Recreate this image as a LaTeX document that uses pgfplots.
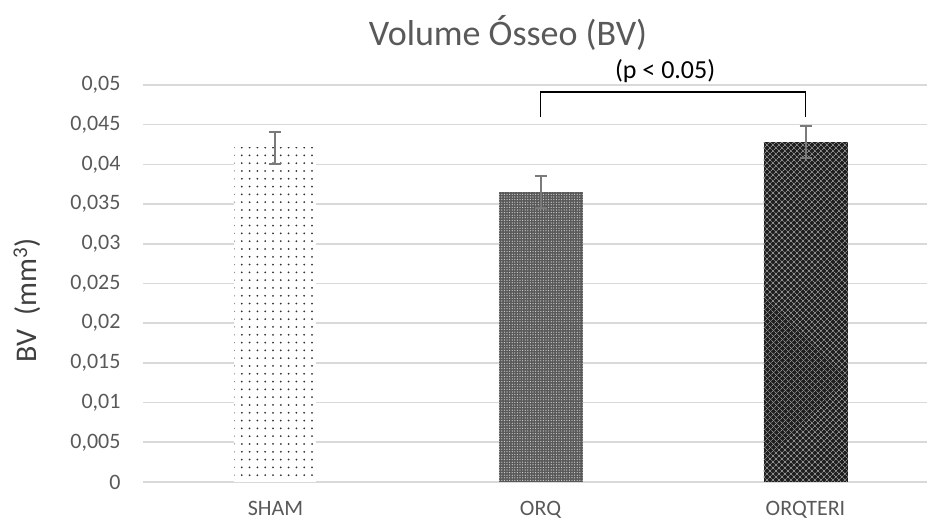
\documentclass[border=0pt]{standalone}
\usepackage{pgfplots}
\pgfplotsset{compat=1.18}
\usepackage{fontspec}
\setmainfont{Carlito}
\usetikzlibrary{patterns,patterns.meta}
\definecolor{textgray}{HTML}{595959}
\definecolor{labgray}{HTML}{404040}
\definecolor{gridgray}{HTML}{D9D9D9}
\definecolor{errgray}{HTML}{7A7A7A}
\begin{document}
\begin{tikzpicture}
\begin{axis}[
  scale only axis,
  width=784pt, height=397pt,
  xmin=-0.5, xmax=2.4585,
  ymin=0, ymax=0.05,
  ytick distance=0.005,
  scaled y ticks=false,
  xtick={0,1,2},
  xticklabels={SHAM,ORQ,ORQTERI},
  axis line style={draw=none},
  major tick length=0pt,
  tick style={draw=none},
  ymajorgrids,
  grid style={color=gridgray, line width=1.6pt},
  /pgf/number format/assume math mode=true,
  /pgf/number format/use comma,
  /pgf/number format/fixed,
  /pgf/number format/precision=3,
  yticklabel style={font=\fontsize{22}{26}\selectfont, color=textgray, anchor=east, xshift=-19pt},
  xticklabel style={font=\fontsize{22}{26}\selectfont, color=textgray, yshift=-16pt},
  ylabel={BV\ \ (mm\textsuperscript{3})},
  ylabel style={font=\fontsize{30}{34}\selectfont, color=labgray, at={(axis description cs:-0.148,0.458)}, anchor=center},
  clip=false,
]
\addplot[ybar, bar width=82pt, bar shift=0pt, draw=none, fill=white,
  postaction={pattern={Dots[distance=7.8pt,radius=1pt]}, pattern color=black!80},
  error bars/.cd, y dir=both, y explicit,
  error bar style={color=errgray, line width=2pt},
  error mark options={rotate=90, mark size=6pt, line width=2pt, color=errgray}]
  coordinates {(0,0.0421) +- (0,0.002)};
\addplot[ybar, bar width=84pt, bar shift=0pt, draw=none, fill=black!65,
  postaction={pattern={Dots[distance=2.6pt,radius=0.6pt]}, pattern color=white!85!black},
  error bars/.cd, y dir=both, y explicit,
  error bar style={color=errgray, line width=2pt},
  error mark options={rotate=90, mark size=6pt, line width=2pt, color=errgray}]
  coordinates {(1,0.0365) +- (0,0.002)};
\addplot[ybar, bar width=84pt, bar shift=0pt, draw=none, fill=black!88,
  postaction={pattern={Lines[angle=45,distance=4pt,line width=0.7pt]}, pattern color=black!45},
  postaction={pattern={Lines[angle=-45,distance=4pt,line width=0.7pt]}, pattern color=black!45},
  error bars/.cd, y dir=both, y explicit,
  error bar style={color=errgray, line width=2pt},
  error mark options={rotate=90, mark size=6pt, line width=2pt, color=errgray}]
  coordinates {(2,0.0428) +- (0,0.002)};
\addplot[black, line width=1.6pt, mark=none] coordinates {(1,0.0460) (1,0.0491) (2,0.0491) (2,0.0460)};
\node[font=\fontsize{36}{40}\selectfont, color=textgray] at (axis description cs:0.4656,1.131) {Volume Ósseo (BV)};
\node[font=\fontsize{26}{30}\selectfont, color=black] at (axis description cs:0.666,1.035) {(p < 0.05)};
\end{axis}
\pgfresetboundingbox
\path[use as bounding box] ([shift={(-143pt,-40pt)}]current axis.south west) rectangle ([shift={(0pt,85pt)}]current axis.north east);
\end{tikzpicture}
\end{document}
